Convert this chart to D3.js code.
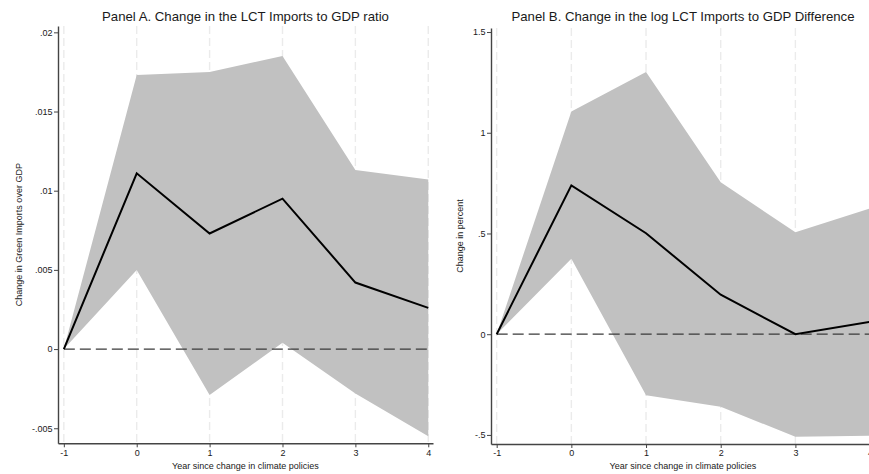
<!DOCTYPE html>
<html>
<head>
<meta charset="utf-8">
<script src="https://cdn.jsdelivr.net/npm/d3@7"></script>
<style>
  html, body { margin: 0; padding: 0; background: #fff; }
  svg { display: block; font-family: "Liberation Sans", Arial, sans-serif; }
</style>
</head>
<body>
<svg id="chart" width="869" height="474"></svg>
<script>
// Event-study estimates: years relative to the climate-policy change
const years = [-1, 0, 1, 2, 3, 4];

// Panel A: change in LCT imports / GDP ratio
const ratioEstimate = [0, 0.0111, 0.0073, 0.0095, 0.0042, 0.0026];
const ratioUpper    = [0, 0.0173, 0.0175, 0.0185, 0.0113, 0.0107];
const ratioLower    = [0, 0.0050, -0.0029, 0.0004, -0.0028, -0.0055];
const ratioTicks      = [-0.005, 0, 0.005, 0.01, 0.015, 0.02];
const ratioTickLabels = ["-.005", "0", ".005", ".01", ".015", ".02"];

// Panel B: change in log LCT imports to GDP difference (percent)
const logEstimate = [0, 0.739, 0.501, 0.196, 0.0, 0.061];
const logUpper    = [0, 1.106, 1.301, 0.754, 0.506, 0.624];
const logLower    = [0, 0.374, -0.303, -0.360, -0.509, -0.504];
const logTicks      = [-0.5, 0, 0.5, 1, 1.5];
const logTickLabels = ["-.5", "0", ".5", "1", "1.5"];

const xTickLabels = ["-1", "0", "1", "2", "3", "4"];
const xTitle = "Year since change in climate policies";

const panels = [
  {
    title: "Panel A. Change in the LCT Imports to GDP ratio",
    yTitle: "Change in Green Imports over GDP",
    est: ratioEstimate, upper: ratioUpper, lower: ratioLower,
    ticks: ratioTicks, tickLabels: ratioTickLabels,
    xDomain: [-1.08, 4.065], xRange: [58, 433],
    yDomain: [-0.00595, 0.0204], yRange: [443.3, 26],
    yTitleX: 21.5
  },
  {
    title: "Panel B. Change in the log LCT Imports to GDP Difference",
    yTitle: "Change in percent",
    est: logEstimate, upper: logUpper, lower: logLower,
    ticks: logTicks, tickLabels: logTickLabels,
    xDomain: [-1.076, 4.066], xRange: [491, 875],
    yDomain: [-0.545, 1.52], yRange: [444, 28],
    yTitleX: 462.5
  }
];

const svg = d3.select("#chart");
const axisColor = "#444";
const textColor = "#1a1a1a";

panels.forEach(p => {
  const x = d3.scaleLinear().domain(p.xDomain).range(p.xRange);
  const y = d3.scaleLinear().domain(p.yDomain).range(p.yRange);
  const g = svg.append("g");
  const [top, bottom] = [p.yRange[1], p.yRange[0]];
  const [left, right] = p.xRange;

  // vertical dashed grid at each year
  g.append("g").selectAll("line").data(years).join("line")
    .attr("x1", d => x(d)).attr("x2", d => x(d))
    .attr("y1", top).attr("y2", bottom)
    .attr("stroke", "#ebebeb").attr("stroke-width", 1.4)
    .attr("stroke-dasharray", "8,4");

  const rows = years.map((yr, i) => ({ yr, est: p.est[i], hi: p.upper[i], lo: p.lower[i] }));

  // confidence band
  g.append("path").datum(rows)
    .attr("fill", "#c1c1c1")
    .attr("d", d3.area().x(d => x(d.yr)).y0(d => y(d.lo)).y1(d => y(d.hi)));

  // zero reference line
  g.append("line")
    .attr("x1", x(years[0])).attr("x2", x(years[years.length - 1]))
    .attr("y1", y(0)).attr("y2", y(0))
    .attr("stroke", "#3a3a3a").attr("stroke-width", 1.3)
    .attr("stroke-dasharray", "11,5");

  // point estimates
  g.append("path").datum(rows)
    .attr("fill", "none").attr("stroke", "#000").attr("stroke-width", 2)
    .attr("stroke-linejoin", "miter")
    .attr("d", d3.line().x(d => x(d.yr)).y(d => y(d.est)));

  // y axis
  const yAxis = g.append("g").attr("transform", `translate(${left},0)`)
    .call(d3.axisLeft(y).tickValues(p.ticks)
      .tickFormat((d, i) => p.tickLabels[i])
      .tickSize(4).tickSizeOuter(0).tickPadding(1.5));
  // x axis
  const xAxis = g.append("g").attr("transform", `translate(0,${bottom})`)
    .call(d3.axisBottom(x).tickValues(years)
      .tickFormat((d, i) => xTickLabels[i])
      .tickSize(4).tickSizeOuter(0).tickPadding(2));

  [yAxis, xAxis].forEach(a => {
    a.select(".domain").attr("stroke", axisColor).attr("stroke-width", 1.4);
    a.selectAll(".tick line").attr("stroke", axisColor).attr("stroke-width", 1);
    a.selectAll(".tick text").attr("fill", textColor)
      .style("font-size", "9px").style("font-family", "'Liberation Sans', Arial, sans-serif");
  });

  // titles
  g.append("text")
    .attr("x", (left + right) / 2).attr("y", 20.5)
    .attr("text-anchor", "middle").attr("fill", textColor)
    .style("font-size", "13.2px")
    .text(p.title);

  g.append("text")
    .attr("x", (left + right) / 2).attr("y", 469)
    .attr("text-anchor", "middle").attr("fill", textColor)
    .style("font-size", "9px")
    .text(xTitle);

  g.append("text")
    .attr("transform", `translate(${p.yTitleX},${(top + bottom) / 2}) rotate(-90)`)
    .attr("text-anchor", "middle").attr("fill", textColor)
    .style("font-size", "9px")
    .text(p.yTitle);
});
</script>
</body>
</html>
